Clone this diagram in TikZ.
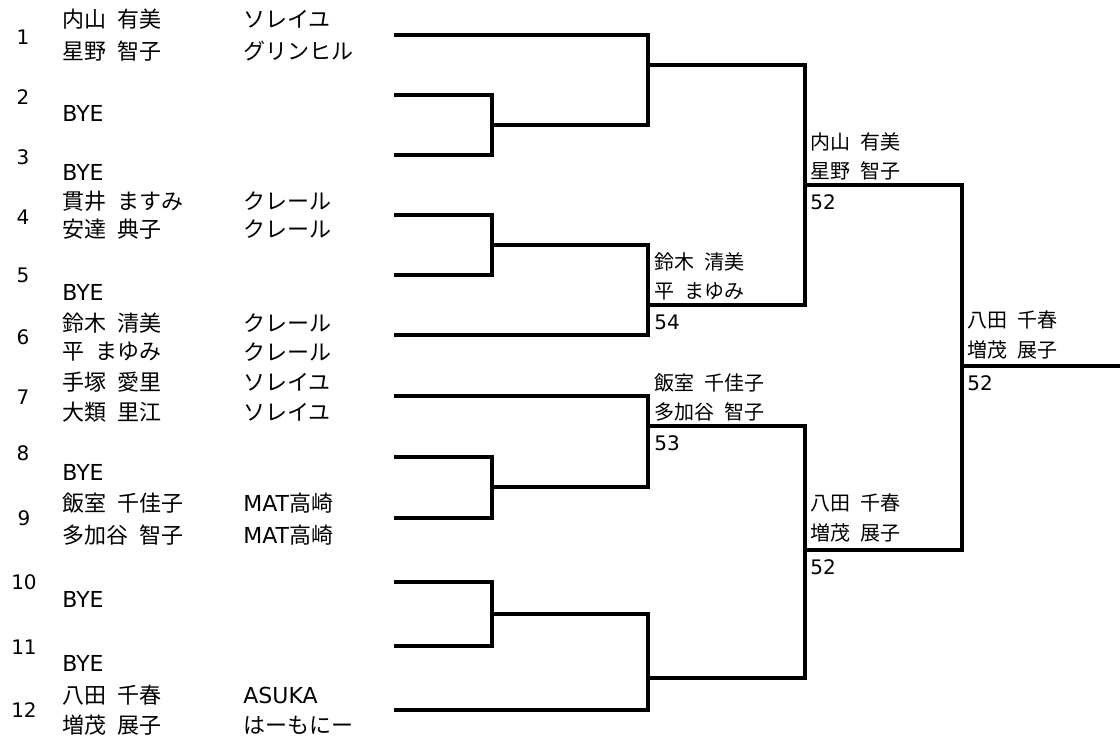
\documentclass[tikz,border=0pt]{standalone}
\usepackage{fontspec}
\setmainfont{Noto Sans CJK JP}[WordSpace=2.2]
\newfontfamily\latfont{DejaVu Sans}
\usepackage{tikz}

\begin{document}
\begin{tikzpicture}[x=0.5pt,y=-0.5pt,
   bline/.style={line width=1.75pt},
   seed/.style={inner sep=0pt,font=\latfont\fontsize{10}{12}\selectfont},
   player/.style={anchor=west,inner sep=0pt,font=\fontsize{11}{13}\selectfont},
   result/.style={anchor=west,inner sep=0pt,font=\fontsize{10}{12}\selectfont}]

    \useasboundingbox (0,0) rectangle (1120,740);

 % Entry lines start here
    \coordinate (e1) at (394,35);
    \coordinate (e2) at (394,95);
    \coordinate (e3) at (394,155);
    \coordinate (e4) at (394,215);
    \coordinate (e5) at (394,275);
    \coordinate (e6) at (394,335);
    \coordinate (e7) at (394,396);
    \coordinate (e8) at (394,457);
    \coordinate (e9) at (394,518);
    \coordinate (e10) at (394,582);
    \coordinate (e11) at (394,646);
    \coordinate (e12) at (394,710);

 % Junctions of the rounds
    \coordinate (b23) at (492,125);
    \coordinate (b45) at (492,245);
    \coordinate (b89) at (492,487);
    \coordinate (b1011) at (492,614);
    \coordinate (q1) at (648,65);
    \coordinate (q2) at (648,305);
    \coordinate (q3) at (648,426);
    \coordinate (q4) at (648,678);
    \coordinate (s1) at (805,185);
    \coordinate (s2) at (805,550);
    \coordinate (f) at (962,366);
    \coordinate (out) at (1120,366);

 % Draw the bracket
    \draw[bline] (e2) -| (b23) |- (e3); % BYE vs BYE
    \draw[bline] (e4) -| (b45) |- (e5);
    \draw[bline] (e8) -| (b89) |- (e9);
    \draw[bline] (e10) -| (b1011) |- (e11);
    \draw[bline] (e1) -| (q1) |- (b23);
    \draw[bline] (b45) -| (q2) |- (e6);
    \draw[bline] (e7) -| (q3) |- (b89);
    \draw[bline] (b1011) -| (q4) |- (e12);
    \draw[bline] (q1) -| (s1) |- (q2);
    \draw[bline] (q3) -| (s2) |- (q4);
    \draw[bline] (s1) -| (f) |- (s2);
    \draw[bline] (f) -- (out); % final

 % Seed numbers
    \node[seed] (n1) at (23,37) {1};
    \node[seed] (n2) at (23,97) {2};
    \node[seed] (n3) at (23,157) {3};
    \node[seed] (n4) at (23,217) {4};
    \node[seed] (n5) at (23,275) {5};
    \node[seed] (n6) at (23,337) {6};
    \node[seed] (n7) at (23,397) {7};
    \node[seed] (n8) at (23,453) {8};
    \node[seed] (n9) at (24,518) {9};
    \node[seed] (n10) at (24,582) {10};
    \node[seed] (n11) at (24,647) {11};
    \node[seed] (n12) at (24,710) {12};

 % Players
    \node[player] (p1a) at (62,19) {内山 有美};
    \node[player] (p1b) at (62,51) {星野 智子};
    \node[player] (p2) at (62,113) {\latfont BYE};
    \node[player] (p3) at (62,172) {\latfont BYE};
    \node[player] (p4a) at (62,201) {貫井 ますみ};
    \node[player] (p4b) at (62,229) {安達 典子};
    \node[player] (p5) at (62,292) {\latfont BYE};
    \node[player] (p6a) at (62,323) {鈴木 清美};
    \node[player] (p6b) at (62,352) {平 まゆみ};
    \node[player] (p7a) at (62,382) {手塚 愛里};
    \node[player] (p7b) at (62,412) {大類 里江};
    \node[player] (p8) at (62,472) {\latfont BYE};
    \node[player] (p9a) at (62,503) {飯室 千佳子};
    \node[player] (p9b) at (62,535) {多加谷 智子};
    \node[player] (p10) at (62,599) {\latfont BYE};
    \node[player] (p11) at (62,663) {\latfont BYE};
    \node[player] (p12a) at (62,695) {八田 千春};
    \node[player] (p12b) at (62,725) {増茂 展子};

 % Clubs
    \node[player] (c1a) at (243,19) {ソレイユ};
    \node[player] (c1b) at (243,51) {グリンヒル};
    \node[player] (c4a) at (243,201) {クレール};
    \node[player] (c4b) at (243,229) {クレール};
    \node[player] (c6a) at (243,323) {クレール};
    \node[player] (c6b) at (243,352) {クレール};
    \node[player] (c7a) at (243,382) {ソレイユ};
    \node[player] (c7b) at (243,412) {ソレイユ};
    \node[player] (c9a) at (243,503) {{\latfont MAT}高崎};
    \node[player] (c9b) at (243,535) {{\latfont MAT}高崎};
    \node[player] (c12a) at (243,695) {\latfont ASUKA};
    \node[player] (c12b) at (243,725) {はーもにー};

 % Winners and scores
    \node[result] (w1a) at (654,262) {鈴木 清美};
    \node[result] (w1b) at (654,291) {平 まゆみ};
    \node[result] (w1s) at (654,322) {\latfont 54};
    \node[result] (w2a) at (654,383) {飯室 千佳子};
    \node[result] (w2b) at (654,412) {多加谷 智子};
    \node[result] (w2s) at (654,443) {\latfont 53};
    \node[result] (w3a) at (810,142) {内山 有美};
    \node[result] (w3b) at (810,171) {星野 智子};
    \node[result] (w3s) at (810,202) {\latfont 52};
    \node[result] (w4a) at (810,503) {八田 千春};
    \node[result] (w4b) at (810,533) {増茂 展子};
    \node[result] (w4s) at (810,567) {\latfont 52};
    \node[result] (w5a) at (967,320) {八田 千春};
    \node[result] (w5b) at (967,350) {増茂 展子};
    \node[result] (w5s) at (967,383) {\latfont 52};

\end{tikzpicture}
\end{document}
